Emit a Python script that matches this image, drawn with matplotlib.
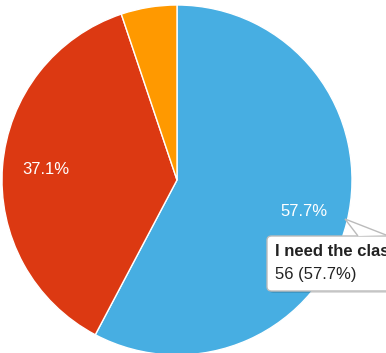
import matplotlib.pyplot as plt
from matplotlib.patches import FancyBboxPatch, Polygon

plt.rcParams['font.family'] = ['Liberation Sans', 'DejaVu Sans']

# responses per answer
answers = ['I need the class', 'Other answer', 'Not sure']
counts = [56, 36, 5]
colors = ['#47aee2', '#dc3912', '#ff9900']

W, H = 386, 353
fig = plt.figure(figsize=(W / 100, H / 100), dpi=100)

def fx(px):
    return px / W

def fy(py):
    return 1 - py / H

# pie area: center (177, 180), radius 175 px
ax = fig.add_axes([fx(2), fy(355), 350 / W, 350 / H])
total = sum(counts)

def pct(p):
    return '%.1f%%' % p if p > 8 else ''

wedges, texts, autotexts = ax.pie(
    counts, colors=colors, startangle=90, counterclock=False,
    autopct=pct, pctdistance=0.75,
    wedgeprops=dict(edgecolor='white', linewidth=1),
    textprops=dict(color='white', fontsize=12))
ax.set_xlim(-1, 1)
ax.set_ylim(-1, 1)
ax.set_aspect('equal')
ax.axis('off')

# tooltip for the hovered slice
bx0, by0, bx1, by1 = 267, 236, 400, 291
shadow = FancyBboxPatch((fx(bx0 + 2), fy(by1 + 2)), fx(bx1 - bx0), (by1 - by0) / H,
                        boxstyle='round,pad=0,rounding_size=0.012',
                        transform=fig.transFigure, facecolor='#00000022',
                        edgecolor='none', zorder=5)
box = FancyBboxPatch((fx(bx0), fy(by1)), fx(bx1 - bx0), (by1 - by0) / H,
                     boxstyle='round,pad=0,rounding_size=0.012',
                     transform=fig.transFigure, facecolor='white',
                     edgecolor='#bbbbbb', linewidth=1, zorder=6)
fig.patches.extend([shadow, box])
tip = [(fx(358), fy(by0)), (fx(345), fy(219)), (fx(386), fy(by0 - 1))]
pointer_fill = Polygon(tip, closed=True, transform=fig.transFigure,
                       facecolor='white', edgecolor='none', zorder=7)
pointer_edge = Polygon(tip, closed=False, transform=fig.transFigure,
                       fill=False, edgecolor='#bbbbbb', linewidth=1, zorder=8)
fig.patches.extend([pointer_fill, pointer_edge])

fig.text(fx(275), fy(252), answers[0], fontsize=12, fontweight='bold',
         color='#222222', va='center', zorder=9)
fig.text(fx(275), fy(275), '%d (%.1f%%)' % (counts[0], 100 * counts[0] / total),
         fontsize=12, color='#222222', va='center', zorder=9)

fig.savefig('out.png', dpi=100)
